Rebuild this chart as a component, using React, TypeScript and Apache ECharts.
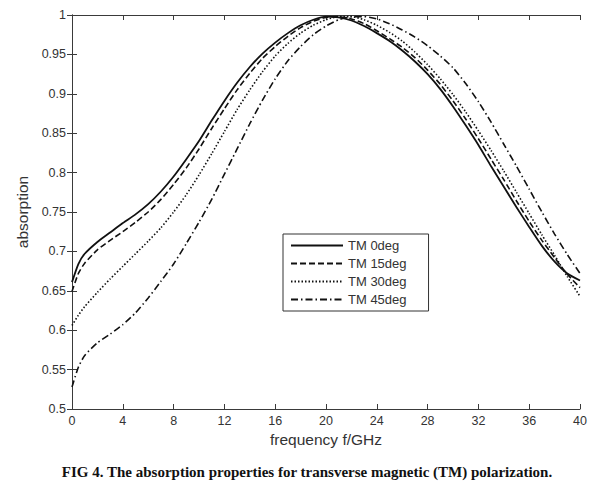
import React, { useEffect, useRef } from "react";
import * as echarts from "echarts";

const freq = [0, 0.5, 1, 2, 3, 4, 5, 6, 7, 8, 9, 10, 11, 12, 13, 14, 15, 16, 17, 18, 19, 20, 21, 22, 23, 24, 25, 26, 27, 28, 29, 30, 31, 32, 33, 34, 35, 36, 37, 38, 39, 40];

const tm0 = [0.661, 0.684, 0.697, 0.712, 0.724, 0.736, 0.747, 0.760, 0.776, 0.795, 0.817, 0.840, 0.866, 0.891, 0.914, 0.934, 0.951, 0.965, 0.977, 0.987, 0.994, 0.998, 0.997, 0.993, 0.986, 0.977, 0.967, 0.955, 0.941, 0.925, 0.906, 0.884, 0.860, 0.835, 0.808, 0.782, 0.756, 0.731, 0.707, 0.687, 0.672, 0.663];
const tm15 = [0.649, 0.672, 0.685, 0.702, 0.714, 0.725, 0.737, 0.750, 0.766, 0.785, 0.806, 0.830, 0.856, 0.881, 0.905, 0.926, 0.945, 0.960, 0.973, 0.984, 0.992, 0.997, 0.998, 0.995, 0.989, 0.980, 0.970, 0.959, 0.946, 0.930, 0.912, 0.891, 0.868, 0.843, 0.817, 0.791, 0.764, 0.738, 0.714, 0.692, 0.671, 0.654];
const tm30 = [0.606, 0.619, 0.630, 0.648, 0.665, 0.681, 0.697, 0.713, 0.730, 0.750, 0.772, 0.797, 0.824, 0.852, 0.880, 0.905, 0.928, 0.948, 0.964, 0.977, 0.987, 0.994, 0.998, 0.998, 0.994, 0.987, 0.978, 0.967, 0.953, 0.937, 0.919, 0.899, 0.877, 0.853, 0.828, 0.802, 0.775, 0.748, 0.721, 0.695, 0.668, 0.643];
const tm45 = [0.528, 0.553, 0.568, 0.584, 0.595, 0.607, 0.622, 0.641, 0.662, 0.684, 0.710, 0.737, 0.766, 0.798, 0.830, 0.862, 0.892, 0.919, 0.942, 0.960, 0.975, 0.986, 0.994, 0.998, 0.998, 0.995, 0.989, 0.981, 0.972, 0.961, 0.948, 0.933, 0.913, 0.890, 0.864, 0.836, 0.808, 0.779, 0.750, 0.722, 0.696, 0.672];

const seriesNames = ["TM 0deg", "TM 15deg", "TM 30deg", "TM 45deg"];
const seriesValues = [tm0, tm15, tm30, tm45];
const dashTypes: any[] = ["solid", [6, 3], [1.5, 2], [7, 3, 1.5, 3]];

const xTitle = "frequency f/GHz";
const yTitle = "absorption";
const caption = "FIG 4. The absorption properties for transverse magnetic (TM) polarization.";

export default function App() {
  const ref = useRef<HTMLDivElement>(null);
  useEffect(() => {
    if (!ref.current) return;
    const chart = echarts.init(ref.current, null, { renderer: "svg" });
    const font = "Liberation Sans, Arial, sans-serif";
    const axisCommon = {
      min: 0,
      max: 40,
      interval: 4,
    };
    const lineColor = "#3a3a3a";
    chart.setOption({
      animation: false,
      backgroundColor: "#ffffff",
      grid: { left: 72, right: 34, top: 15, bottom: 81, containLabel: false },
      title: {
        text: caption,
        left: "center",
        top: 459,
        textStyle: { fontFamily: "Liberation Serif, Times New Roman, serif", fontWeight: "bold", fontSize: 15, color: "#111" },
      },
      legend: {
        orient: "vertical",
        left: 283,
        top: 234,
        padding: [5, 22, 5, 7],
        itemGap: 5,
        itemWidth: 52,
        itemHeight: 14,
        backgroundColor: "#fff",
        borderColor: "#333",
        borderWidth: 1,
        itemStyle: { opacity: 0, color: "transparent", borderWidth: 0 },
        textStyle: { fontFamily: font, fontSize: 13, color: "#333" },
        data: seriesNames,
      },
      xAxis: [
        {
          type: "value",
          ...axisCommon,
          name: xTitle,
          nameLocation: "middle",
          nameGap: 20,
          nameTextStyle: { fontFamily: font, fontSize: 15.5, color: "#333" },
          axisLine: { show: true, lineStyle: { color: lineColor, width: 1 } },
          axisTick: { show: true, inside: true, length: 5, lineStyle: { color: lineColor } },
          axisLabel: { fontFamily: font, fontSize: 12.5, color: "#333", margin: 5 },
          splitLine: { show: false },
        },
        {
          type: "value",
          ...axisCommon,
          position: "top",
          axisLine: { show: true, lineStyle: { color: lineColor, width: 1 } },
          axisTick: { show: true, inside: true, length: 5, lineStyle: { color: lineColor } },
          axisLabel: { show: false },
          splitLine: { show: false },
        },
      ],
      yAxis: [
        {
          type: "value",
          min: 0.5,
          max: 1,
          interval: 0.05,
          name: yTitle,
          nameLocation: "middle",
          nameGap: 38,
          nameTextStyle: { fontFamily: font, fontSize: 15.5, color: "#333" },
          axisLine: { show: true, lineStyle: { color: lineColor, width: 1 } },
          axisTick: { show: true, inside: true, length: 5, lineStyle: { color: lineColor } },
          axisLabel: { fontFamily: font, fontSize: 12.5, color: "#333", margin: 6 },
          splitLine: { show: false },
        },
        {
          type: "value",
          min: 0.5,
          max: 1,
          interval: 0.05,
          position: "right",
          axisLine: { show: true, lineStyle: { color: lineColor, width: 1 } },
          axisTick: { show: true, inside: true, length: 5, lineStyle: { color: lineColor } },
          axisLabel: { show: false },
          splitLine: { show: false },
        },
      ],
      series: seriesNames.map((name, i) => ({
        name,
        type: "line",
        xAxisIndex: 0,
        yAxisIndex: 0,
        showSymbol: false,
        symbol: "none",
        smooth: 0.2,
        data: freq.map((f, j) => [f, seriesValues[i][j]]),
        lineStyle: { color: "#111", width: i === 0 ? 1.8 : 1.6, type: dashTypes[i] },
        itemStyle: { color: "#111" },
        z: 4 - i,
      })),
    });
    return () => chart.dispose();
  }, []);
  return (
    <div
      ref={ref}
      style={{ position: "fixed", left: 0, top: 0, width: 614, height: 490 }}
    />
  );
}
